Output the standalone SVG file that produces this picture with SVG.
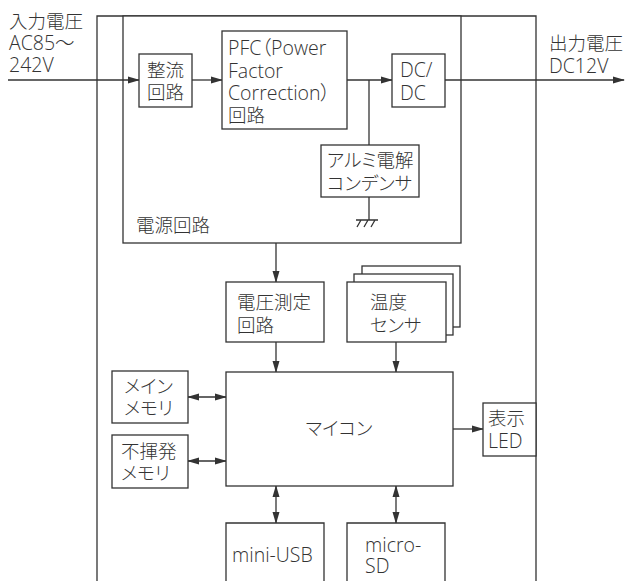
<svg xmlns="http://www.w3.org/2000/svg" width="625" height="581" viewBox="0 0 625 581">
<style>
.b{fill:#fff;stroke:#333;stroke-width:1.3}
.l{fill:none;stroke:#333;stroke-width:1.3}
text{font-family:"Open Sans","Noto Sans CJK JP",sans-serif;font-weight:300;font-size:18.5px;fill:#333;font-feature-settings:"palt"}
.e{font-size:19.5px}
</style>
<defs>
<marker id="a" markerWidth="12" markerHeight="8" refX="11" refY="4" orient="auto" markerUnits="userSpaceOnUse"><path d="M0,0.5 L12,4 L0,7.5 Z" fill="#333"/></marker>
<marker id="s" markerWidth="12" markerHeight="8" refX="1" refY="4" orient="auto" markerUnits="userSpaceOnUse"><path d="M12,0.5 L0,4 L12,7.5 Z" fill="#333"/></marker>
</defs>
<g id="outer"><path class="l" d="M97,581 V16 H536 V581"/></g>
<g id="power"><rect class="b" x="123" y="16" width="338" height="227"/><text x="136" y="232">電源回路</text></g>
<g id="input-label"><text x="9" y="28">入力電圧</text><text class="e" x="9" y="50">AC85～</text><text class="e" x="9" y="72">242V</text></g>
<g id="output-label"><text x="549" y="50">出力電圧</text><text class="e" x="549" y="73">DC12V</text></g>
<g id="connectors">
<line class="l" x1="8" y1="80" x2="139" y2="80" marker-end="url(#a)"/>
<line class="l" x1="192" y1="80" x2="222" y2="80" marker-end="url(#a)"/>
<line class="l" x1="347" y1="80" x2="392" y2="80" marker-end="url(#a)"/>
<line class="l" x1="369" y1="80" x2="369" y2="145"/>
<line class="l" x1="369" y1="197" x2="369" y2="220"/>
<path class="l" d="M356,220 H378 M361,220 L357,227 M368,220 L364,227 M375,220 L371,227"/>
<line class="l" x1="445" y1="80" x2="624" y2="80" marker-end="url(#a)"/>
<line class="l" x1="276" y1="243" x2="276" y2="282" marker-end="url(#a)"/>
<line class="l" x1="276" y1="342" x2="276" y2="372" marker-end="url(#a)"/>
<line class="l" x1="396" y1="342" x2="396" y2="372" marker-end="url(#a)"/>
<line class="l" x1="188" y1="397" x2="226" y2="397" marker-start="url(#s)" marker-end="url(#a)"/>
<line class="l" x1="188" y1="461" x2="226" y2="461" marker-start="url(#s)" marker-end="url(#a)"/>
<line class="l" x1="453" y1="429" x2="483" y2="429" marker-end="url(#a)"/>
<line class="l" x1="276" y1="486" x2="276" y2="523" marker-start="url(#s)" marker-end="url(#a)"/>
<line class="l" x1="396" y1="486" x2="396" y2="523" marker-start="url(#s)" marker-end="url(#a)"/>
</g>
<g id="rect"><rect class="b" x="139" y="54" width="53" height="53"/><text x="147" y="77">整流</text><text x="147" y="99">回路</text></g>
<g id="pfc"><rect class="b" x="222" y="31" width="125" height="98"/><text class="e" x="228" y="55">PFC（Power</text><text class="e" x="228" y="78">Factor</text><text class="e" x="228" y="100">Correction）</text><text x="228" y="122">回路</text></g>
<g id="dcdc"><rect class="b" x="392" y="54" width="53" height="53"/><text class="e" x="400" y="77">DC/</text><text class="e" x="400" y="100">DC</text></g>
<g id="cap"><rect class="b" x="321" y="145" width="98" height="52"/><text x="327" y="167">アルミ電解</text><text x="327" y="190">コンデンサ</text></g>
<g id="volt"><rect class="b" x="226" y="282" width="98" height="60"/><text x="237" y="309">電圧測定</text><text x="237" y="332">回路</text></g>
<g id="temp"><rect class="b" x="362" y="266" width="98" height="61"/><rect class="b" x="354" y="274" width="99" height="61"/><rect class="b" x="347" y="282" width="99" height="60"/><text x="370" y="309">温度</text><text x="370" y="332">センサ</text></g>
<g id="mcu"><rect class="b" x="226" y="372" width="227" height="114"/><text x="339" y="435" text-anchor="middle">マイコン</text></g>
<g id="mainmem"><rect class="b" x="112" y="371" width="76" height="52"/><text x="124" y="393">メイン</text><text x="124" y="415">メモリ</text></g>
<g id="nvmem"><rect class="b" x="112" y="435" width="76" height="53"/><text x="121" y="458">不揮発</text><text x="121" y="480">メモリ</text></g>
<g id="led"><rect class="b" x="483" y="403" width="53" height="53"/><text x="488" y="425">表示</text><text class="e" x="488" y="448">LED</text></g>
<g id="usb"><path class="b" d="M226,582 V523 H324 V582"/><text class="e" x="232" y="562">mini-USB</text></g>
<g id="sd"><path class="b" d="M347,582 V523 H445 V582"/><text class="e" x="365" y="552">micro-</text><text class="e" x="365" y="573">SD</text></g>
</svg>
